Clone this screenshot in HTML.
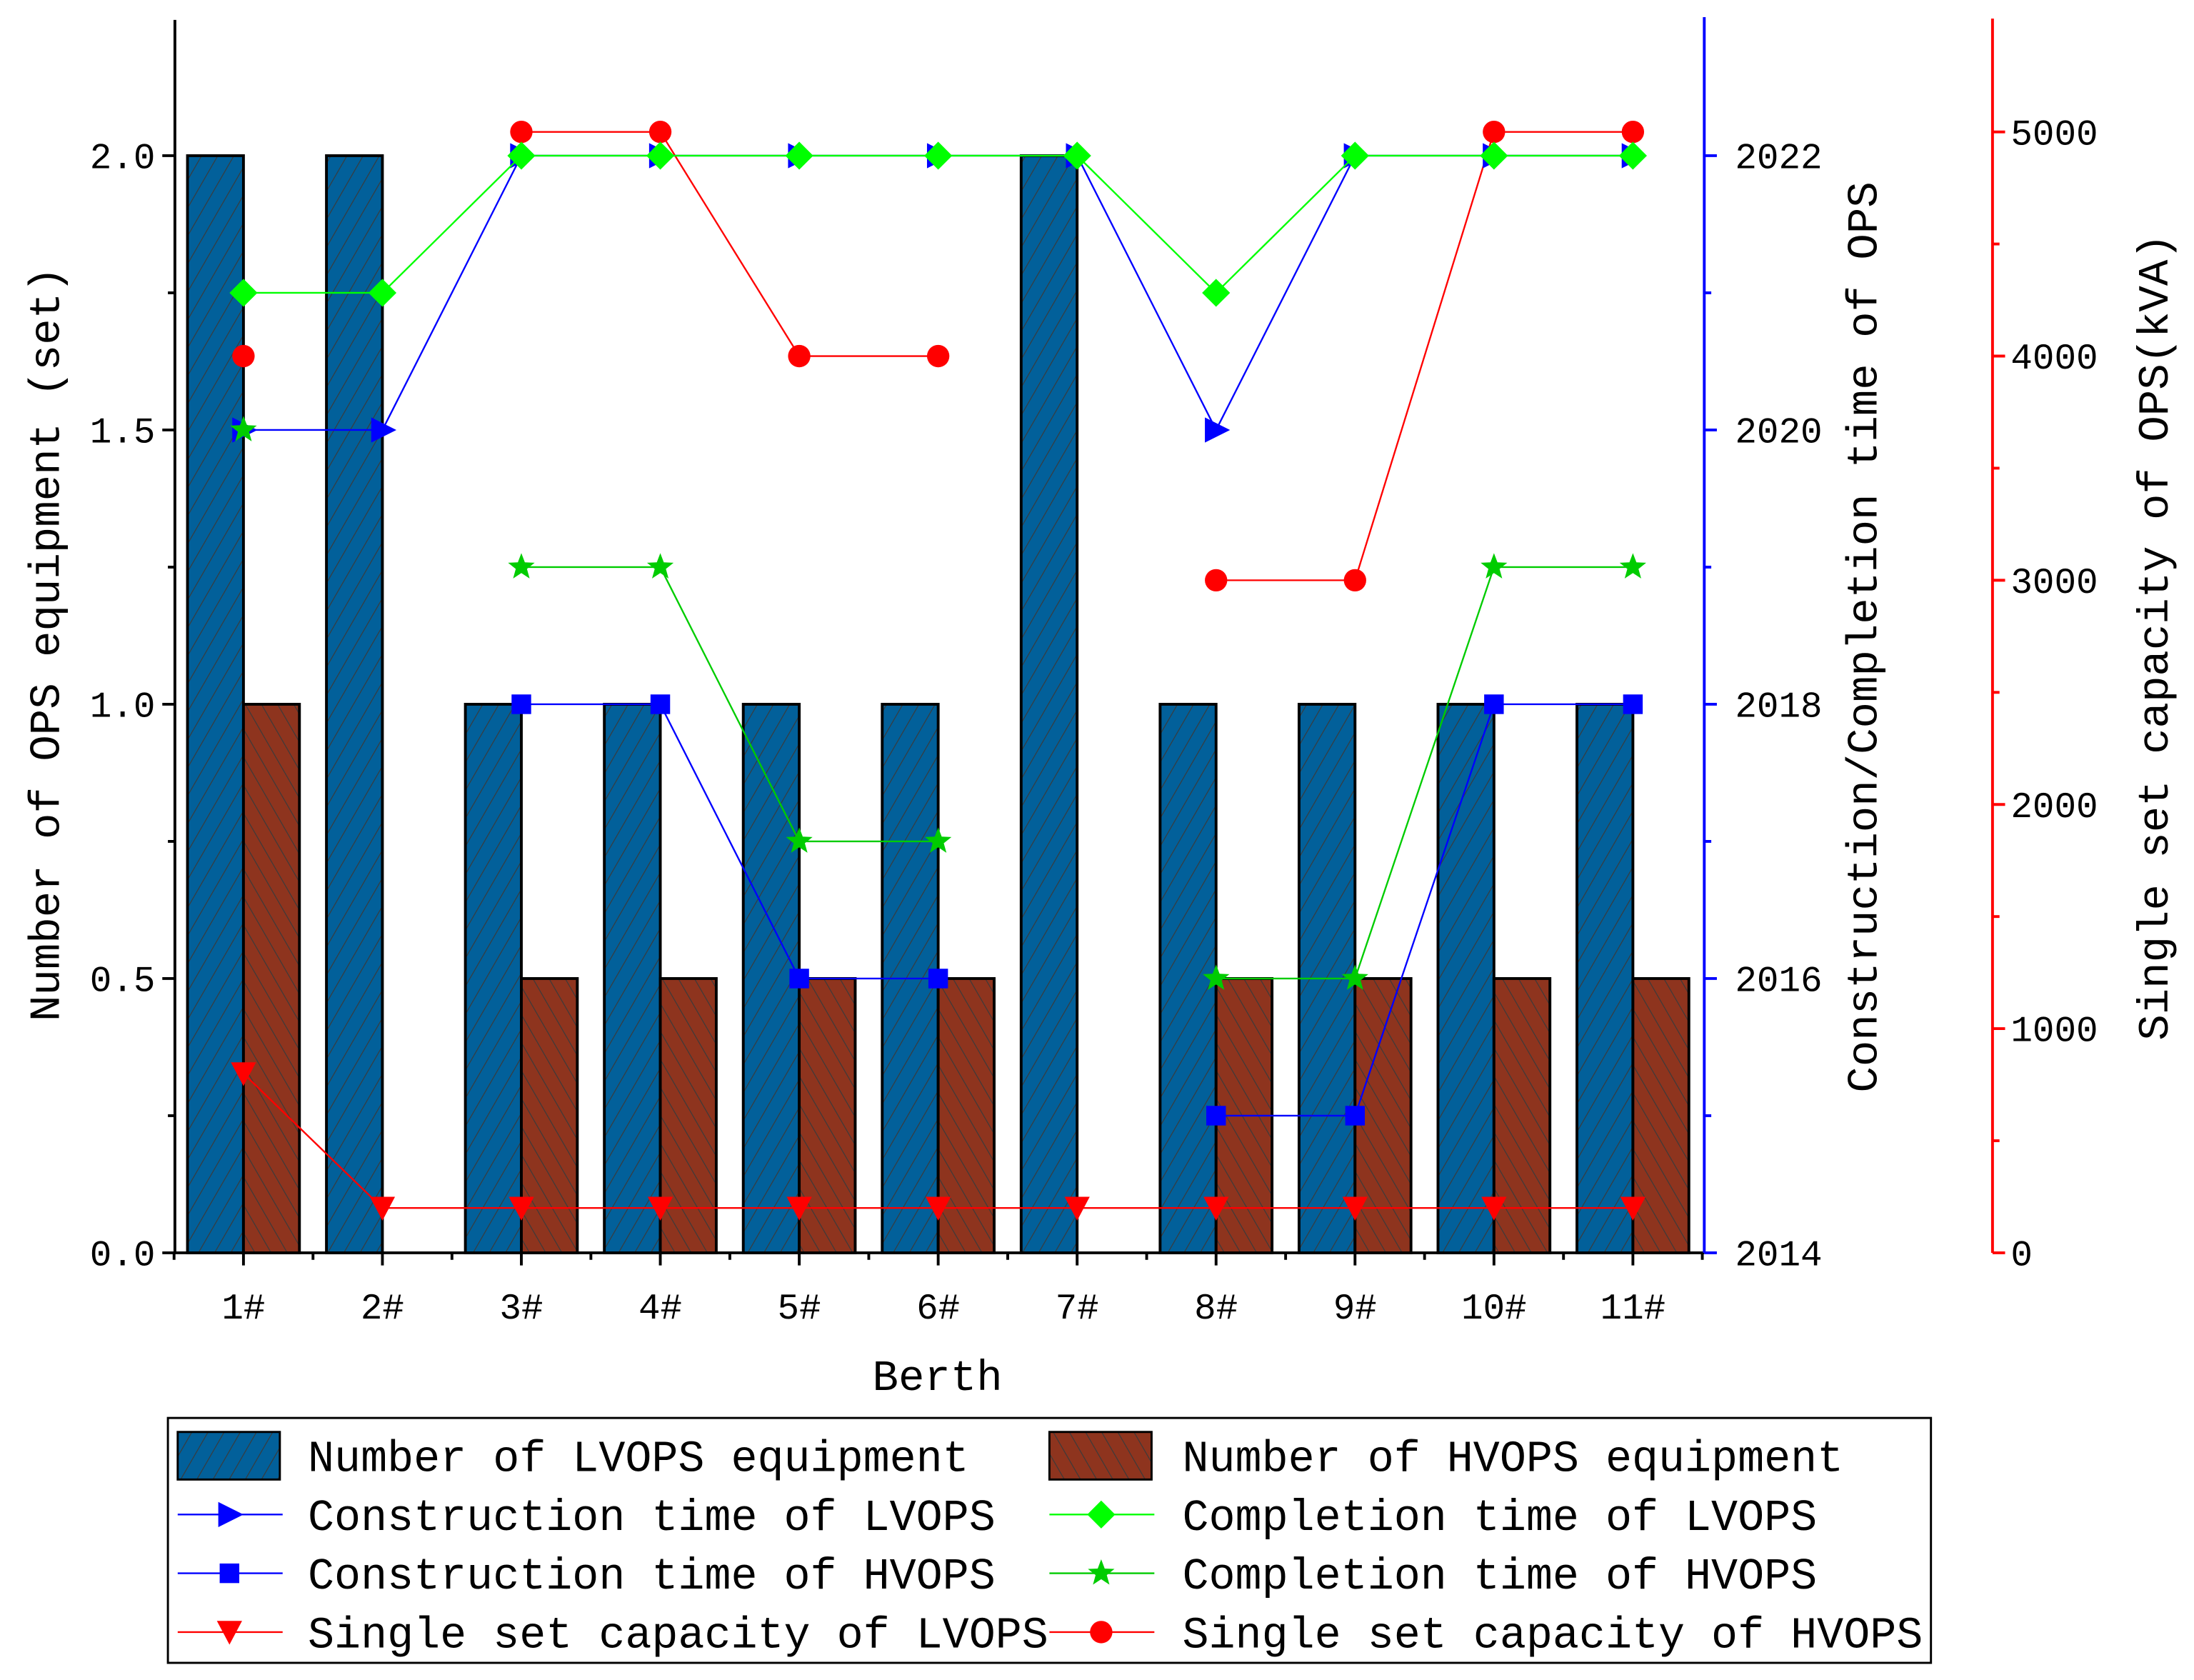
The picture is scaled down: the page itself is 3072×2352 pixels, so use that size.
<!DOCTYPE html>
<html><head><meta charset="utf-8"><style>
html,body{margin:0;padding:0;background:#fff}
svg{display:block}
text{font-family:"Liberation Mono","Noto Serif CJK SC",monospace;fill:#000}
</style></head><body>
<svg id="chart" width="3072" height="2352" viewBox="0 0 1568 1200" xmlns="http://www.w3.org/2000/svg">
<defs>
<pattern id="hatchLV" patternUnits="userSpaceOnUse" width="10" height="10" patternTransform="rotate(30)">
<rect width="10" height="10" fill="#02609a"/><line x1="0" y1="0" x2="0" y2="10" stroke="#3a3a3a" stroke-width="1.2"/></pattern>
<pattern id="hatchHV" patternUnits="userSpaceOnUse" width="10" height="10" patternTransform="rotate(-30)">
<rect width="10" height="10" fill="#8e341e"/><line x1="0" y1="0" x2="0" y2="10" stroke="#3a3a3a" stroke-width="1.2"/></pattern>
</defs>
<g id="plot"></g>
<g id="legend"></g>
</svg>
<script>
const categories=["1#","2#","3#","4#","5#","6#","7#","8#","9#","10#","11#"];
const lvCount=[2,2,1,1,1,1,2,1,1,1,1];
const hvCount=[1,0,0.5,0.5,0.5,0.5,0,0.5,0.5,0.5,0.5];
const lvConstruction=[2020,2020,2022,2022,2022,2022,2022,2020,2022,2022,2022];
const lvCompletion=[2021,2021,2022,2022,2022,2022,2022,2021,2022,2022,2022];
const hvConstruction=[null,null,2018,2018,2016,2016,null,2015,2015,2018,2018];
const hvCompletion=[2020,null,2019,2019,2017,2017,null,2016,2016,2019,2019];
const lvCapacity=[800,200,200,200,200,200,200,200,200,200,200];
const hvCapacity=[4000,null,5000,5000,4000,4000,null,3000,3000,5000,5000];
const leftTicks=["0.0","0.5","1.0","1.5","2.0"];
const yearTicks=["2014","2016","2018","2020","2022"];
const capTicks=["0","1000","2000","3000","4000","5000"];

const NS="http://www.w3.org/2000/svg";
const plot=document.getElementById('plot');
const lg=document.getElementById('legend');
function el(tag,attrs,parent,txt){const e=document.createElementNS(NS,tag);for(const k in attrs)e.setAttribute(k,attrs[k]);if(txt!==undefined)e.textContent=txt;(parent||plot).appendChild(e);return e;}
const X0=125,X1=1218,Y0=895;
const xC=i=>174+i*99.3;
const yL=v=>Y0-v*392;
const yY=v=>Y0-(v-2014)*98;
const yC=v=>Y0-v*0.1602;

lvCount.forEach((v,i)=>{if(v>0){const r=el('rect',{x:xC(i)-40,y:yL(v),width:40,height:Y0-yL(v),fill:'url(#hatchLV)',stroke:'#000','stroke-width':2});
}});
hvCount.forEach((v,i)=>{if(v>0){const r=el('rect',{x:xC(i),y:yL(v),width:40,height:Y0-yL(v),fill:'url(#hatchHV)',stroke:'#000','stroke-width':2});
}});

function marker(type,x,y,c,g){
 if(type==='tri-r')el('polygon',{points:`${x-8},${y-9} ${x+10},${y} ${x-8},${y+9}`,fill:c},g);
 else if(type==='sq')el('rect',{x:x-7,y:y-7,width:14,height:14,fill:c},g);
 else if(type==='dia')el('polygon',{points:`${x},${y-10} ${x+10},${y} ${x},${y+10} ${x-10},${y}`,fill:c},g);
 else if(type==='star'){let p=[];for(let k=0;k<10;k++){const r=k%2?4.2:10,a=-Math.PI/2+k*Math.PI/5;p.push((x+r*Math.cos(a)).toFixed(1)+','+(y+r*Math.sin(a)).toFixed(1));}el('polygon',{points:p.join(' '),fill:c},g);}
 else if(type==='tri-d')el('polygon',{points:`${x-9},${y-8} ${x+9},${y-8} ${x},${y+9}`,fill:c},g);
 else if(type==='circ')el('circle',{cx:x,cy:y,r:8,fill:c},g);
}
function series(name,data,yf,c,type){
 const g=el('g',{});
 
 for(let i=0;i<data.length-1;i++){if(data[i]!=null&&data[i+1]!=null)el('line',{x1:xC(i),y1:yf(data[i]),x2:xC(i+1),y2:yf(data[i+1]),stroke:c,'stroke-width':1.2},g);}
 data.forEach((v,i)=>{if(v!=null)marker(type,xC(i),yf(v),c,g);});
}
series('hvops-capacity-line',hvCapacity,yC,'#ff0000','circ');
series('lvops-capacity-line',lvCapacity,yC,'#ff0000','tri-d');
series('hvops-construction-line',hvConstruction,yY,'#0000ff','sq');
series('lvops-construction-line',lvConstruction,yY,'#0000ff','tri-r');
series('hvops-completion-line',hvCompletion,yY,'#00cc00','star');
series('lvops-completion-line',lvCompletion,yY,'#00ff00','dia');

el('line',{x1:X0,y1:Y0,x2:X1,y2:Y0,stroke:'#000','stroke-width':2});
el('line',{x1:X0,y1:14,x2:X0,y2:Y0,stroke:'#000','stroke-width':2});
el('line',{x1:X1,y1:12,x2:X1,y2:Y0,stroke:'#0000ff','stroke-width':2});
el('line',{x1:1424,y1:13,x2:1424,y2:Y0,stroke:'#ff0000','stroke-width':2});
for(let k=0;k<=8;k++){const y=Y0-k*98;el('line',{x1:k%2?X0-5:X0-9,y1:y,x2:X0,y2:y,stroke:'#000','stroke-width':2});}
leftTicks.forEach((t,i)=>{const tx=el('text',{x:X0-14,y:yL(i*0.5)+9,'font-size':26,'text-anchor':'end'},plot,t);});
for(let k=0;k<=8;k++){const y=Y0-k*98;el('line',{x1:X1,y1:y,x2:X1+(k%2?5:9),y2:y,stroke:'#0000ff','stroke-width':2});}
yearTicks.forEach((t,i)=>{const tx=el('text',{x:X1+22,y:yY(2014+i*2)+9,'font-size':26},plot,t);});
for(let k=0;k<=10;k++){const y=yC(k*500);el('line',{x1:1424,y1:y,x2:1424+(k%2?5:9),y2:y,stroke:'#ff0000','stroke-width':2});}
capTicks.forEach((t,i)=>{const tx=el('text',{x:1437,y:yC(i*1000)+9,'font-size':26},plot,t);});
categories.forEach((c,i)=>{el('line',{x1:xC(i),y1:Y0,x2:xC(i),y2:Y0+9,stroke:'#000','stroke-width':2});
 el('line',{x1:xC(i)-49.6,y1:Y0,x2:xC(i)-49.6,y2:Y0+5,stroke:'#000','stroke-width':2});
 const tx=el('text',{x:xC(i),y:Y0+47,'font-size':26,'text-anchor':'middle'},plot,c);});
el('line',{x1:xC(10)+49.6,y1:Y0,x2:xC(10)+49.6,y2:Y0+5,stroke:'#000','stroke-width':2});
let t;
t=el('text',{x:670,y:993,'font-size':31,'text-anchor':'middle'},plot,'Berth');
t=el('text',{x:0,y:0,'font-size':31,'text-anchor':'middle',transform:'translate(42,460) rotate(-90)'},plot,'Number of OPS equipment (set)');
t=el('text',{x:0,y:0,'font-size':31,'text-anchor':'middle',transform:'translate(1341,455) rotate(-90)'},plot,'Construction/Completion time of OPS');
t=el('text',{x:0,y:0,'font-size':31,'text-anchor':'middle',transform:'translate(1549,455) rotate(-90)'},plot,'Single set capacity of OPS(kVA)');

el('rect',{x:120,y:1013,width:1260,height:175,fill:'#fff',stroke:'#000','stroke-width':1.5},lg);
const items=[
 ['bar','url(#hatchLV)','Number of LVOPS equipment'],['bar','url(#hatchHV)','Number of HVOPS equipment'],
 ['tri-r','#0000ff','Construction time of LVOPS'],['dia','#00ff00','Completion time of LVOPS'],
 ['sq','#0000ff','Construction time of HVOPS'],['star','#00cc00','Completion time of HVOPS'],
 ['tri-d','#ff0000','Single set capacity of LVOPS'],['circ','#ff0000','Single set capacity of HVOPS']];
items.forEach((it,k)=>{const col=k%2,row=Math.floor(k/2);const mx=col?750:127,tx=col?845:220,y=1040+row*42;
 const g=el('g',{},lg);
 if(it[0]==='bar')el('rect',{x:mx,y:y-17,width:73,height:34,fill:it[1],stroke:'#000','stroke-width':1.5},g);
 else{el('line',{x1:mx,y1:y,x2:mx+75,y2:y,stroke:it[1],'stroke-width':1.2},g);marker(it[0],mx+37,y,it[1],g);}
 el('text',{x:tx,y:y+11,'font-size':31.5},g,it[2]);});
</script>
</body></html>
